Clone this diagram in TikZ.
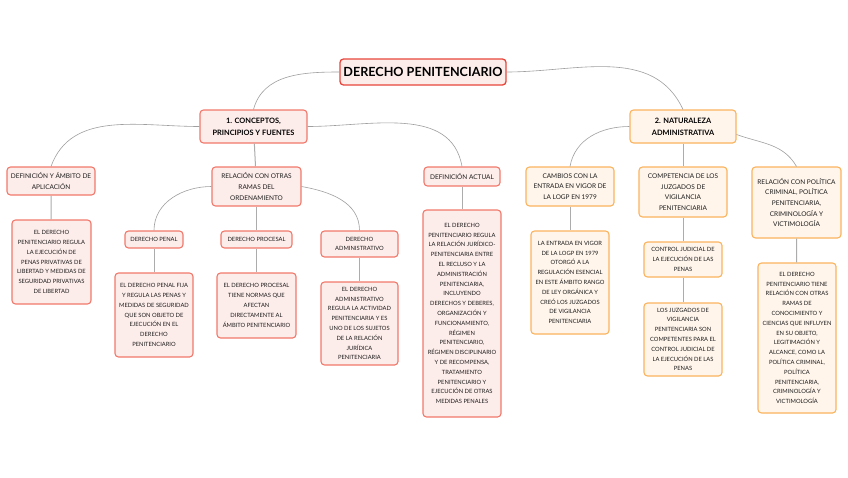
\documentclass[tikz,border=0pt]{standalone}
\usepackage{fontspec}
\setmainfont{Lato}
\definecolor{redline}{HTML}{E8463C}
\definecolor{salmon}{HTML}{F2786B}
\definecolor{pinkfill}{HTML}{FDEDEA}
\definecolor{orangeline}{HTML}{FBB35E}
\definecolor{creamfill}{HTML}{FFF5EB}
\definecolor{inkgray}{HTML}{1E1E1E}
\tikzset{
  box/.style={draw, rounded corners=3.5pt, line width=1.1pt, align=center,
    inner sep=1pt, text=inkgray},
  redbox/.style={box, draw=salmon, fill=pinkfill},
  orabox/.style={box, draw=orangeline, fill=creamfill},
  small/.style={font=\fontsize{5.8}{9.8}\selectfont},
  mid/.style={font=\fontsize{6.5}{10.6}\selectfont},
  curve/.style={draw=gray!75, line width=0.6pt},
  link/.style={draw=gray!65, line width=1pt}
}
\begin{document}
\begin{tikzpicture}[x=1pt,y=-1pt]
  \useasboundingbox[fill=white] (0,0) rectangle (848,477);

  % raiz y primer nivel
  \node[box, draw=redline, fill=pinkfill, line width=1.3pt, minimum width=166, minimum height=26,
        font=\fontsize{12.6}{13}\selectfont\bfseries, text=black] (root) at (423,72) {DERECHO PENITENCIARIO};
  \node[redbox, minimum width=107, minimum height=33, font=\fontsize{7.4}{12}\selectfont\bfseries, text=black]
        (conc) at (253.5,126.5) {1. CONCEPTOS,\\PRINCIPIOS Y FUENTES};
  \node[orabox, minimum width=106, minimum height=33, font=\fontsize{7.4}{12}\selectfont\bfseries, text=black]
        (nat) at (683,126.5) {2. NATURALEZA\\ADMINISTRATIVA};

  % conceptos, principios y fuentes
  \node[redbox, mid, minimum width=88, minimum height=28] (defamb) at (51,181)
        {DEFINICIÓN Y ÁMBITO DE\\APLICACIÓN};
  \node[redbox, mid, minimum width=89, minimum height=39] (relac) at (256.5,186.5)
        {RELACIÓN CON OTRAS\\RAMAS DEL\\ORDENAMIENTO};
  \node[redbox, mid, minimum width=76, minimum height=19] (defact) at (462,176.5)
        {DEFINICIÓN ACTUAL};
  \node[redbox, small, minimum width=58, minimum height=17] (penal) at (154,239.5) {DERECHO PENAL};
  \node[redbox, small, minimum width=71, minimum height=17] (proces) at (256.5,239.5) {DERECHO PROCESAL};
  \node[redbox, small, minimum width=77, minimum height=26] (admin) at (359.5,244)
        {DERECHO\\ADMINISTRATIVO};

  \node[redbox, small, minimum width=79, minimum height=84] (defambtxt) at (51.5,262)
        {EL DERECHO\\PENITENCIARIO REGULA\\LA EJECUCIÓN DE\\PENAS PRIVATIVAS DE\\LIBERTAD Y MEDIDAS DE\\SEGURIDAD PRIVATIVAS\\DE LIBERTAD};
  \node[redbox, small, minimum width=78, minimum height=84] (penaltxt) at (154,315)
        {EL DERECHO PENAL FIJA\\Y REGULA LAS PENAS Y\\MEDIDAS DE SEGURIDAD\\QUE SON OBJETO DE\\EJECUCIÓN EN EL\\DERECHO\\PENITENCIARIO};
  \node[redbox, small, minimum width=79, minimum height=65] (procestxt) at (256.5,305.5)
        {EL DERECHO PROCESAL\\TIENE NORMAS QUE\\AFECTAN\\DIRECTAMENTE AL\\ÁMBITO PENITENCIARIO};
  \node[redbox, small, minimum width=77, minimum height=83] (admintxt) at (359.5,323.5)
        {EL DERECHO\\ADMINISTRATIVO\\REGULA LA ACTIVIDAD\\PENITENCIARIA Y ES\\UNO DE LOS SUJETOS\\DE LA RELACIÓN\\JURÍDICA\\PENITENCIARIA};
  \node[redbox, small, minimum width=78, minimum height=207] (defacttxt) at (462,313.5)
        {EL DERECHO\\PENITENCIARIO REGULA\\LA RELACIÓN JURÍDICO-\\PENITENCIARIA ENTRE\\EL RECLUSO Y LA\\ADMINISTRACIÓN\\PENITENCIARIA,\\INCLUYENDO\\DERECHOS Y DEBERES,\\ORGANIZACIÓN Y\\FUNCIONAMIENTO,\\RÉGIMEN\\PENITENCIARIO,\\RÉGIMEN DISCIPLINARIO\\Y DE RECOMPENSA,\\TRATAMIENTO\\PENITENCIARIO Y\\EJECUCIÓN DE OTRAS\\MEDIDAS PENALES};

  % naturaleza administrativa
  \node[orabox, mid, minimum width=88, minimum height=39] (cambios) at (570,186.5)
        {CAMBIOS CON LA\\ENTRADA EN VIGOR DE\\LA LOGP EN 1979};
  \node[orabox, mid, minimum width=88, minimum height=50] (compet) at (683,192)
        {COMPETENCIA DE LOS\\JUZGADOS DE\\VIGILANCIA\\PENITENCIARIA};
  \node[orabox, mid, minimum width=89, minimum height=71] (relpol) at (796.5,202.5)
        {RELACIÓN CON POLÍTICA\\CRIMINAL, POLÍTICA\\PENITENCIARIA,\\CRIMINOLOGÍA Y\\VICTIMOLOGÍA};
  \node[orabox, small, minimum width=78, minimum height=103] (cambiostxt) at (570,282.5)
        {LA ENTRADA EN VIGOR\\DE LA LOGP EN 1979\\OTORGÓ A LA\\REGULACIÓN ESENCIAL\\EN ESTE ÁMBITO RANGO\\DE LEY ORGÁNICA Y\\CREÓ LOS JUZGADOS\\DE VIGILANCIA\\PENITENCIARIA};
  \node[orabox, small, minimum width=78, minimum height=35] (control) at (683,259.5)
        {CONTROL JUDICIAL DE\\LA EJECUCIÓN DE LAS\\PENAS};
  \node[orabox, small, minimum width=78, minimum height=73] (controltxt) at (683,339.5)
        {LOS JUZGADOS DE\\VIGILANCIA\\PENITENCIARIA SON\\COMPETENTES PARA EL\\CONTROL JUDICIAL DE\\LA EJECUCIÓN DE LAS\\PENAS};
  \node[orabox, small, minimum width=78, minimum height=150] (relpoltxt) at (797,338)
        {EL DERECHO\\PENITENCIARIO TIENE\\RELACIÓN CON OTRAS\\RAMAS DE\\CONOCIMIENTO Y\\CIENCIAS QUE INFLUYEN\\EN SU OBJETO,\\LEGITIMACIÓN Y\\ALCANCE, COMO LA\\POLÍTICA CRIMINAL,\\POLÍTICA\\PENITENCIARIA,\\CRIMINOLOGÍA Y\\VICTIMOLOGÍA};

  % conectores curvos
  \draw[curve] (root.west) to[out=180,in=75] (conc.north);
  \draw[curve] (root.east) to[out=0,in=115] (nat.north);
  \draw[curve] (conc.west) to[out=180,in=70] (defamb.north);
  \draw[curve] (conc.east) to[out=0,in=100] (defact.north);
  \draw[curve] (relac.west) to[out=180,in=90] (penal.north);
  \draw[curve] (relac.east) to[out=-10,in=90] (admin.north);
  \draw[curve] (nat.west) to[out=180,in=80] (cambios.north);
  \draw[curve] ([yshift=-8]nat.east) to[out=-20,in=120] (relpol.north);

  % conectores rectos
  \foreach \a/\b in {conc/relac, defamb/defambtxt, relac/proces, penal/penaltxt, proces/procestxt,
                     admin/admintxt, defact/defacttxt, nat/compet, cambios/cambiostxt,
                     compet/control, control/controltxt, relpol/relpoltxt}
     \draw[link] (\a) -- (\b);
\end{tikzpicture}
\end{document}
